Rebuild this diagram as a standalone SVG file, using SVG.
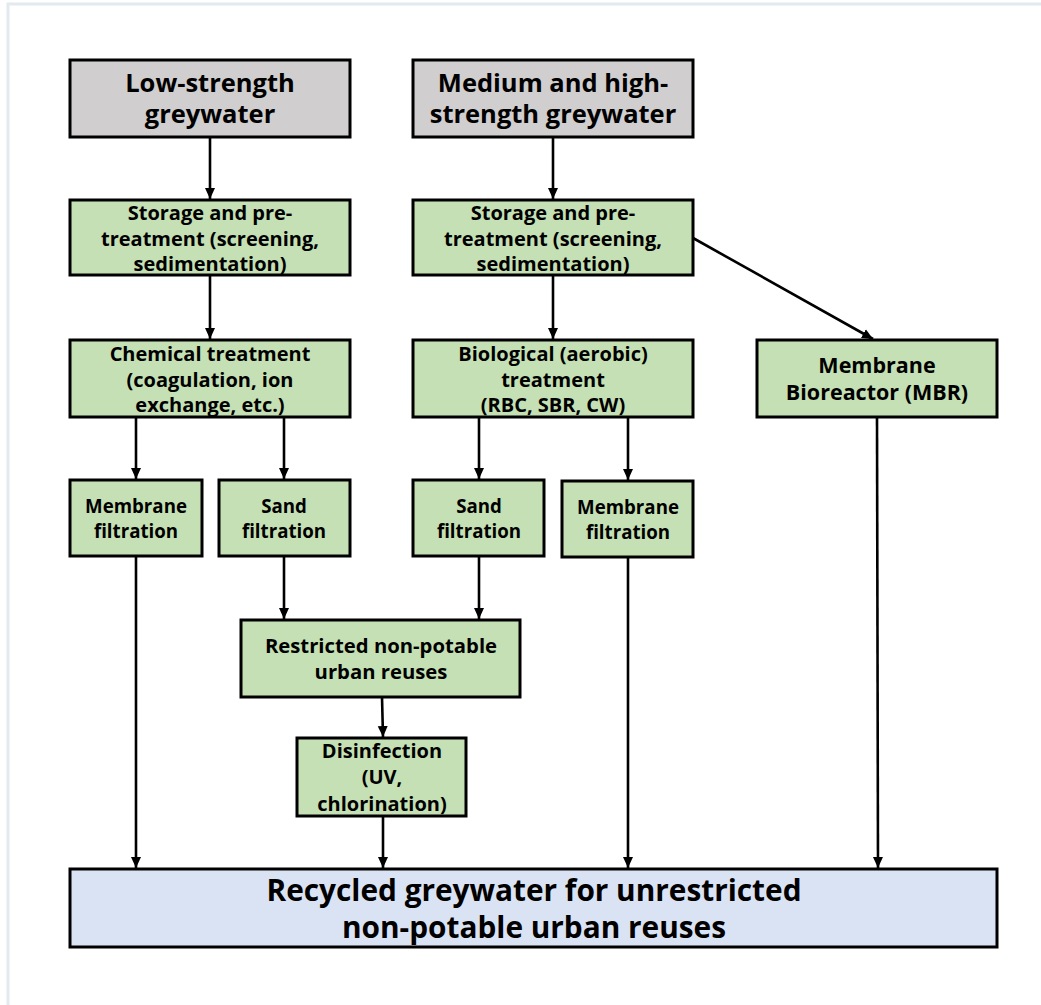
<svg xmlns="http://www.w3.org/2000/svg" width="1041" height="1005" viewBox="0 0 1041 1005">
<style>
.t{font-family:"Open Sans","DejaVu Sans",sans-serif;font-weight:700;fill:#000;text-anchor:middle}
.g{fill:#c5e0b4;stroke:#000;stroke-width:3}
.s{fill:#d0cece;stroke:#000;stroke-width:3}
.b{fill:#dae3f3;stroke:#000;stroke-width:3}
.c{stroke:#000;stroke-width:2.6;fill:none;marker-end:url(#ah)}
.h{font-size:25.5px}
.m{font-size:20px}
.f{font-size:18.7px}
.l{font-size:29.8px}
</style>
<defs>
<marker id="ah" markerWidth="12" markerHeight="12" refX="11" refY="6" orient="auto" markerUnits="userSpaceOnUse">
<path d="M0,1 L11,6 L0,11 Z" fill="#000"/>
</marker>
</defs>
<rect width="1041" height="1005" fill="#fff"/>
<path d="M8,1005 V4 H1041" fill="none" stroke="#e4e9ef" stroke-width="3"/>
<g id="connectors">
<line class="c" x1="210" y1="137" x2="210" y2="199"/>
<line class="c" x1="553" y1="137" x2="553" y2="199"/>
<line class="c" x1="210" y1="275" x2="210" y2="339"/>
<line class="c" x1="553" y1="275" x2="553" y2="339"/>
<line class="c" x1="693" y1="238" x2="873" y2="339"/>
<line class="c" x1="136" y1="417" x2="136" y2="479"/>
<line class="c" x1="284" y1="417" x2="284" y2="479"/>
<line class="c" x1="479" y1="417" x2="479" y2="479"/>
<line class="c" x1="628" y1="417" x2="628" y2="480"/>
<line class="c" x1="284" y1="556" x2="284" y2="619"/>
<line class="c" x1="479" y1="556" x2="479" y2="619"/>
<line class="c" x1="382" y1="697" x2="383" y2="737"/>
<line class="c" x1="383" y1="816" x2="383" y2="868"/>
<line class="c" x1="136" y1="556" x2="136" y2="868"/>
<line class="c" x1="628" y1="557" x2="628" y2="868"/>
<line class="c" x1="877" y1="417" x2="878" y2="868"/>
</g>
<g id="low">
<rect class="s" x="70" y="60" width="280" height="77"/>
<text class="t h" x="210" y="92">Low-strength</text>
<text class="t h" x="210" y="123">greywater</text>
</g>
<g id="medhigh">
<rect class="s" x="413" y="60" width="280" height="77"/>
<text class="t h" x="553" y="92">Medium and high-</text>
<text class="t h" x="553" y="123">strength greywater</text>
</g>
<g id="storage1">
<rect class="g" x="70" y="200" width="280" height="75"/>
<text class="t m" x="210" y="220">Storage and pre-</text>
<text class="t m" x="210" y="245.5">treatment (screening,</text>
<text class="t m" x="210" y="271">sedimentation)</text>
</g>
<g id="storage2">
<rect class="g" x="413" y="200" width="280" height="75"/>
<text class="t m" x="553" y="220">Storage and pre-</text>
<text class="t m" x="553" y="245.5">treatment (screening,</text>
<text class="t m" x="553" y="271">sedimentation)</text>
</g>
<g id="chemical">
<rect class="g" x="70" y="340" width="280" height="77"/>
<text class="t m" x="210" y="361">Chemical treatment</text>
<text class="t m" x="210" y="387">(coagulation, ion</text>
<text class="t m" x="210" y="412">exchange, etc.)</text>
</g>
<g id="biological">
<rect class="g" x="413" y="340" width="280" height="77"/>
<text class="t m" x="553" y="361">Biological (aerobic)</text>
<text class="t m" x="553" y="387">treatment</text>
<text class="t m" x="553" y="412">(RBC, SBR, CW)</text>
</g>
<g id="mbr">
<rect class="g" x="757" y="340" width="240" height="77"/>
<text class="t" style="font-size:21.5px" x="877" y="373">Membrane</text>
<text class="t" style="font-size:21.5px" x="877" y="400">Bioreactor (MBR)</text>
</g>
<g id="memfilt1">
<rect class="g" x="70" y="480" width="132" height="76"/>
<text class="t f" x="136" y="513">Membrane</text>
<text class="t f" x="136" y="538">filtration</text>
</g>
<g id="sandfilt1">
<rect class="g" x="219" y="480" width="131" height="76"/>
<text class="t f" x="284" y="513">Sand</text>
<text class="t f" x="284" y="538">filtration</text>
</g>
<g id="sandfilt2">
<rect class="g" x="413" y="480" width="131" height="76"/>
<text class="t f" x="479" y="513">Sand</text>
<text class="t f" x="479" y="538">filtration</text>
</g>
<g id="memfilt2">
<rect class="g" x="562" y="481" width="131" height="76"/>
<text class="t f" x="628" y="514">Membrane</text>
<text class="t f" x="628" y="539">filtration</text>
</g>
<g id="restricted">
<rect class="g" x="241" y="620" width="279" height="77"/>
<text class="t" style="font-size:20.3px" x="381" y="653">Restricted non-potable</text>
<text class="t" style="font-size:20.3px" x="381" y="679">urban reuses</text>
</g>
<g id="disinfection">
<rect class="g" x="297" y="738" width="169" height="78"/>
<text class="t m" x="382" y="758">Disinfection</text>
<text class="t m" x="382" y="784">(UV,</text>
<text class="t m" x="382" y="810.5">chlorination)</text>
</g>
<g id="recycled">
<rect class="b" x="70" y="869" width="927" height="78"/>
<text class="t l" x="534" y="901">Recycled greywater for unrestricted</text>
<text class="t l" x="534" y="938">non-potable urban reuses</text>
</g>
</svg>
